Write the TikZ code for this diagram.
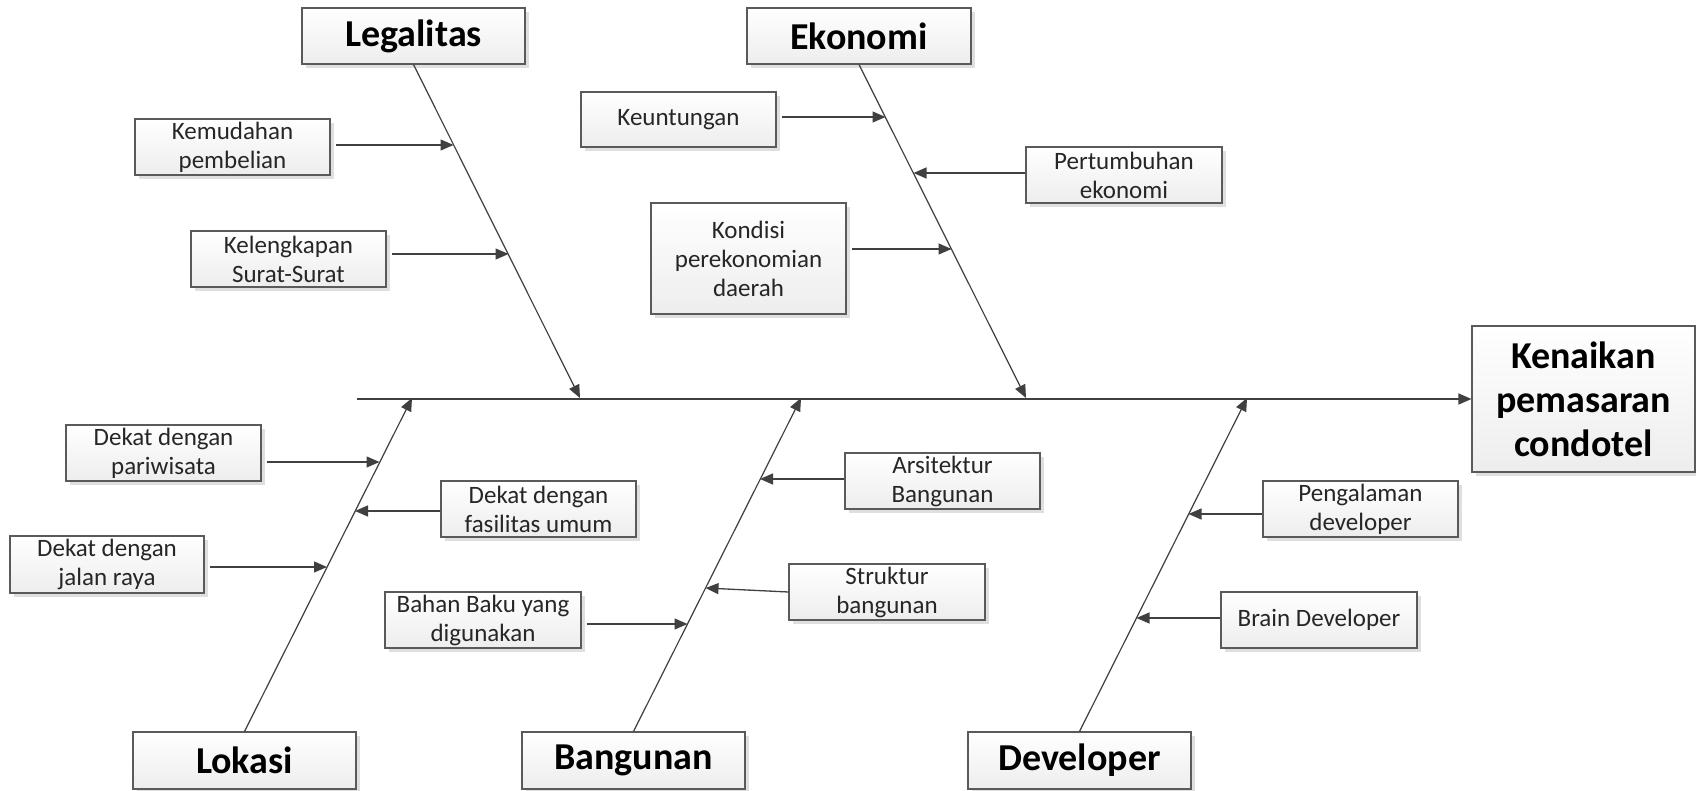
\documentclass[tikz,border=0pt]{standalone}
\usepackage{fontspec}
\setmainfont{Carlito}
\usetikzlibrary{arrows.meta,shadows}
\definecolor{linec}{HTML}{404040}
\definecolor{boxline}{HTML}{5A5A5A}
\definecolor{txt}{HTML}{262626}
\tikzset{
  box/.style={draw=boxline, line width=1.1pt, top color=white, bottom color=gray!14,
    drop shadow={fill=gray!45, opacity=0.55, shadow xshift=4pt, shadow yshift=-4pt},
    inner sep=0pt, align=center, text=txt, font=\fontsize{25}{29}\selectfont},
  title/.style={box, text=black, font=\fontsize{38}{44}\selectfont\bfseries},
  bone/.style={draw=linec, line width=1.2pt, -{Triangle[length=13pt,width=11pt]}},
  sub/.style={draw=linec, line width=1.3pt, -{Triangle[length=13pt,width=11pt]}}
}
\begin{document}
\begin{tikzpicture}[x=1pt,y=-1pt]
\useasboundingbox[fill=white] (0,0) rectangle (1696,791);
% main boxes
\node[title, minimum width=223pt, minimum height=56pt] (legal) at (413.5,36) {Legalitas};
\node[title, minimum width=224pt, minimum height=56pt] (ekon) at (859,36) {Ekonomi};
\node[title, minimum width=223pt, minimum height=57pt] (lok) at (244.5,760.5) {Lokasi};
\node[title, minimum width=223pt, minimum height=57pt] (ban) at (633.5,760.5) {Bangunan};
\node[title, minimum width=223pt, minimum height=57pt] (dev) at (1079.5,760.5) {Developer};
\node[title, minimum width=223pt, minimum height=146pt] (ken) at (1583.5,399) {Kenaikan\\pemasaran\\condotel};
% cause boxes
\node[box, minimum width=195pt, minimum height=56pt] (kem) at (232.5,147) {Kemudahan\\pembelian};
\node[box, minimum width=195pt, minimum height=56pt] (kel) at (288.5,259) {Kelengkapan\\Surat-Surat};
\node[box, minimum width=195pt, minimum height=55pt] (keu) at (678.5,119.5) {Keuntungan};
\node[box, minimum width=196pt, minimum height=56pt] (per) at (1124,175) {Pertumbuhan\\ekonomi};
\node[box, minimum width=195pt, minimum height=111pt] (kon) at (748.5,258.5) {Kondisi\\perekonomian\\daerah};
\node[box, minimum width=195pt, minimum height=56pt] (par) at (163.5,453) {Dekat dengan\\pariwisata};
\node[box, minimum width=195pt, minimum height=56pt] (fas) at (538.5,509) {Dekat dengan\\fasilitas umum};
\node[box, minimum width=194pt, minimum height=57pt] (jal) at (107,564.5) {Dekat dengan\\jalan raya};
\node[box, minimum width=196pt, minimum height=56pt] (bah) at (483,620) {Bahan Baku yang\\digunakan};
\node[box, minimum width=195pt, minimum height=56pt] (ars) at (942.5,481) {Arsitektur\\Bangunan};
\node[box, minimum width=196pt, minimum height=56pt] (str) at (887,592) {Struktur\\bangunan};
\node[box, minimum width=195pt, minimum height=56pt] (pen) at (1360.5,509) {Pengalaman\\developer};
\node[box, minimum width=196pt, minimum height=56pt] (bra) at (1319,620) {Brain Developer};
% spine
\coordinate (sp) at (357,399);
\draw[bone, line width=1.4pt] (sp) -- (ken.west);
% bone tips
\coordinate (lt) at (580,398);
\coordinate (et) at (1026,398);
\coordinate (lot) at (412,398);
\coordinate (bt) at (801,398);
\coordinate (dt) at (1247,398);
\draw[bone] (legal.south) -- (lt);
\draw[bone] (ekon.south) -- (et);
\draw[bone] (lok.north) -- (lot);
\draw[bone] (ban.north) -- (bt);
\draw[bone] (dev.north) -- (dt);
% sub-cause tips
\coordinate (kemT) at (453.5,145);
\coordinate (kelT) at (508.5,254);
\coordinate (keuT) at (885.5,117);
\coordinate (perT) at (913.5,173);
\coordinate (konT) at (951.5,249);
\coordinate (parT) at (379.5,462);
\coordinate (fasT) at (355,511);
\coordinate (jalT) at (327,567);
\coordinate (arsT) at (760,479);
\coordinate (strT) at (705.5,588);
\coordinate (bahT) at (687.5,624);
\coordinate (penT) at (1188.5,514);
\coordinate (braT) at (1136.5,618);
\draw[sub] ([xshift=5pt]kem.east |- kemT) -- (kemT);
\draw[sub] ([xshift=5pt]kel.east |- kelT) -- (kelT);
\draw[sub] ([xshift=5pt]keu.east |- keuT) -- (keuT);
\draw[sub] (per.west |- perT) -- (perT);
\draw[sub] ([xshift=5pt]kon.east |- konT) -- (konT);
\draw[sub] ([xshift=5pt]par.east |- parT) -- (parT);
\draw[sub] (fas.west |- fasT) -- (fasT);
\draw[sub] ([xshift=5pt]jal.east |- jalT) -- (jalT);
\draw[sub] (ars.west |- arsT) -- (arsT);
\draw[sub] (str.west) -- (strT);
\draw[sub] ([xshift=5pt]bah.east |- bahT) -- (bahT);
\draw[sub] (pen.west |- penT) -- (penT);
\draw[sub] (bra.west |- braT) -- (braT);
\end{tikzpicture}
\end{document}
